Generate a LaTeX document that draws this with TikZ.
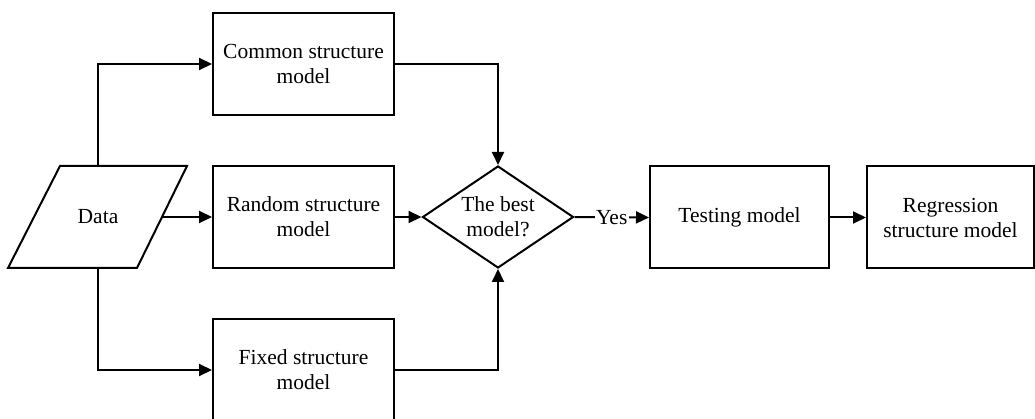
\documentclass[tikz,border=0pt]{standalone}
\usepackage{fontspec}
\setmainfont{Liberation Serif}
\usetikzlibrary{shapes.geometric,arrows.meta}

\tikzset{
  every node/.style={font=\fontsize{21.5}{25}\selectfont, align=center},
  procbox/.style={draw, line width=2pt, rectangle, inner sep=0pt,
                  minimum height=102pt},
  % the data node is the middle band of the parallelogram; its outline is drawn separately
  iobody/.style={rectangle, inner sep=0pt, outer sep=0pt,
                 minimum width=128pt, minimum height=102pt},
  decision/.style={draw, line width=2pt, diamond, aspect=1.48, inner sep=0pt,
                   minimum width=151pt, minimum height=102pt},
  flow/.style={line width=2pt, -{Triangle[length=13pt,width=12pt]}},
  edgelabel/.style={fill=white, inner sep=1.5pt}
}

\begin{document}
\begin{tikzpicture}[x=1pt, y=-1pt]
  \useasboundingbox (0,0) rectangle (1035,419);
  \clip (0,0) rectangle (1035,419);

  % input (parallelogram) and the three candidate models
  \node[iobody] (data) at (98,217) {Data};
  \draw[line width=2pt, line join=miter]
    ([xshift=-26pt]data.south west) -- ([xshift=26pt]data.north west) --
    ([xshift=25pt]data.north east) -- ([xshift=-25pt]data.south east) -- cycle;
  \node[procbox, minimum width=181pt] (common) at (303.5,64) {Common structure\\model};
  \node[procbox, minimum width=181pt] (random) at (303.5,217) {Random structure\\model};
  \node[procbox, minimum width=181pt] (fixed)  at (303.5,370) {Fixed structure\\model};

  % selection and the final stages
  \node[decision] (best) at (498,217) {The best\\model?};
  \node[procbox, minimum width=179pt] (testing) at (739.5,217.5) {Testing model};
  \node[procbox, minimum width=167pt] (regress) at (950.5,217.5) {Regression\\structure model};

  % connectors
  \draw[flow] (data.north) |- (common.west);
  \draw[flow] (data.east) -- (random.west);
  \draw[flow] (data.south) |- (fixed.west);
  \draw[flow] (common.east) -| (best.north);
  \draw[flow] (random.east) -- (best.west);
  \draw[flow] (fixed.east) -| (best.south);
  \draw[flow] (best.east) -- node[edgelabel] (yes) {Yes} (testing.west);
  \draw[flow] (testing.east) -- (regress.west);
\end{tikzpicture}
\end{document}
